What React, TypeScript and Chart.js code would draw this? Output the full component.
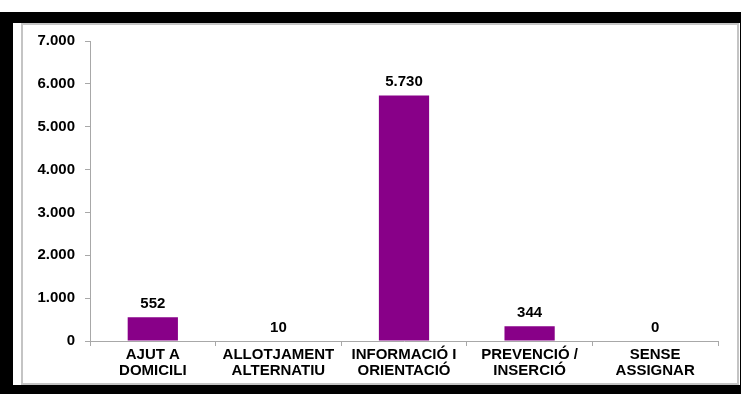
import React, { useEffect, useRef } from "react";
import { Chart, registerables } from "chart.js";

Chart.register(...registerables);

const categories: string[][] = [
  ["AJUT A", "DOMICILI"],
  ["ALLOTJAMENT", "ALTERNATIU"],
  ["INFORMACIÓ I", "ORIENTACIÓ"],
  ["PREVENCIÓ /", "INSERCIÓ"],
  ["SENSE", "ASSIGNAR"],
];
const values: number[] = [552, 10, 5730, 344, 0];
const yMin = 0;
const yMax = 7000;
const yStep = 1000;

const BAR_COLOR = "#880088";
const FONT = "'Liberation Sans', Arial, sans-serif";

const fmt = (v: number) =>
  String(Math.round(v)).replace(/\B(?=(\d{3})+(?!\d))/g, ".");

const valueLabels = {
  id: "valueLabels",
  afterDatasetsDraw(chart: any) {
    const ctx = chart.ctx;
    const meta = chart.getDatasetMeta(0);
    ctx.save();
    ctx.font = `bold 15px ${FONT}`;
    ctx.fillStyle = "#000";
    ctx.textAlign = "center";
    ctx.textBaseline = "alphabetic";
    meta.data.forEach((bar: any, i: number) => {
      ctx.fillText(fmt(values[i]), bar.x, bar.y - 9);
    });
    ctx.restore();
  },
};

export default function App() {
  const ref = useRef<HTMLCanvasElement | null>(null);

  useEffect(() => {
    if (!ref.current) return;
    const chart = new Chart(ref.current, {
      type: "bar",
      data: {
        labels: categories,
        datasets: [
          {
            data: values,
            backgroundColor: BAR_COLOR,
            borderWidth: 0,
            barPercentage: 0.4,
            categoryPercentage: 1,
          },
        ],
      },
      options: {
        animation: false,
        responsive: false,
        devicePixelRatio: 1,
        layout: { padding: { left: 0, right: 23, top: 41, bottom: 0 } },
        plugins: {
          legend: { display: false },
          tooltip: { enabled: false },
        },
        scales: {
          x: {
            grid: {
              drawOnChartArea: false,
              drawTicks: true,
              tickLength: 5,
              color: "#a8a8a8",
              offset: true,
            },
            border: { display: true, color: "#a8a8a8", width: 1 },
            ticks: {
              color: "#000",
              padding: 1,
              maxRotation: 0,
              autoSkip: false,
              font: { family: FONT, size: 15, weight: "bold", lineHeight: 1.08 },
            },
            afterFit: (s: any) => {
              s.height = 53;
            },
          },
          y: {
            min: yMin,
            max: yMax,
            grid: {
              drawOnChartArea: false,
              drawTicks: true,
              tickLength: 5,
              color: "#a8a8a8",
            },
            border: { display: true, color: "#a8a8a8", width: 1 },
            ticks: {
              stepSize: yStep,
              color: "#000",
              padding: 10,
              font: { family: FONT, size: 15, weight: "bold" },
              callback: (v: any) => fmt(Number(v)),
            },
            afterFit: (s: any) => {
              s.width = 90;
            },
          },
        },
      },
      plugins: [valueLabels],
    });
    return () => chart.destroy();
  }, []);

  return (
    <div
      style={{
        position: "fixed",
        left: 0,
        top: 0,
        width: 741,
        height: 394,
        background: "#fff",
        overflow: "hidden",
      }}
    >
      <div
        style={{
          position: "absolute",
          left: 0,
          top: 12,
          width: 741,
          height: 382,
          background: "#000",
        }}
      />
      <div
        style={{
          position: "absolute",
          left: 13,
          top: 23,
          width: 727,
          height: 362,
          background: "#fff",
        }}
      />
      <div
        style={{
          position: "absolute",
          left: 21,
          top: 23,
          width: 718,
          height: 362,
          boxSizing: "border-box",
          border: "2px solid #c4c4c4",
        }}
      />
      <canvas
        ref={ref}
        width={741}
        height={394}
        style={{ position: "absolute", left: 0, top: 0, width: 741, height: 394 }}
      />
    </div>
  );
}
